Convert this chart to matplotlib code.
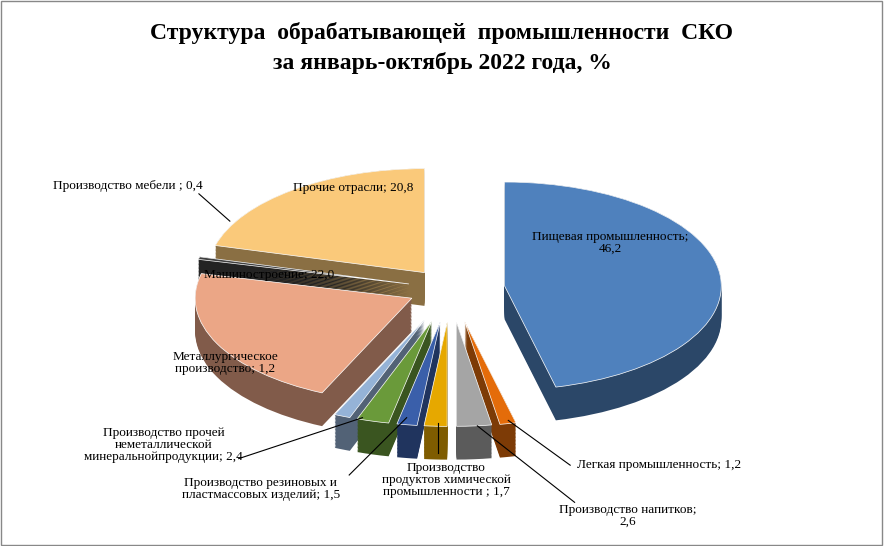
import matplotlib
matplotlib.use("Agg")
import matplotlib.pyplot as plt
import numpy as np
from matplotlib.colors import to_rgb

categories = ["Пищевая промышленность; 46,2", "Легкая промышленность; 1,2", "Производство напитков; 2,6",
              "Производство продуктов химической промышленности ; 1,7", "Производство резиновых и пластмассовых изделий; 1,5",
              "Производство прочей неметаллической минеральнойпродукции; 2,4", "Металлургическое производство; 1,2",
              "Машиностроение; 22,0", "Производство мебели ; 0,4", "Прочие отрасли; 20,8"]
values = [46.2, 1.2, 2.6, 1.7, 1.5, 2.4, 1.2, 22.0, 0.4, 20.8]
colors = ["#4F81BD", "#E46C0A", "#A5A5A5", "#E6A800", "#3A5FAA", "#6A9A3A", "#95B3D7", "#EBA686", "#404040", "#FAC97A"]
explode = [0.25, 0.32, 0.32, 0.32, 0.32, 0.32, 0.32, 0.2, 0.2, 0.2]

plt.rcParams["font.family"] = "Liberation Serif"
fig = plt.figure(figsize=(8.84, 5.46), dpi=100)
fig.patches.append(plt.Rectangle((0.001, 0.001), 0.997, 0.997, transform=fig.transFigure,
                                 fill=False, ec="#888888", lw=1))
fig.text(0.5, 0.94, "Структура  обрабатывающей  промышленности  СКО", ha="center", va="center",
         fontsize=17, fontweight="bold")
fig.text(0.5, 0.885, "за январь-октябрь 2022 года, %", ha="center", va="center", fontsize=17, fontweight="bold")

ax = fig.add_axes([0.08, 0.0, 0.86, 0.80])
dark = [tuple(c * 0.55 for c in to_rgb(col)) for col in colors]
depth = 0.32
for k in np.linspace(depth, 0.0, 25):
    ax.pie(values, colors=dark, explode=explode, startangle=90, counterclock=False,
           center=(0, -k), wedgeprops=dict(lw=0), normalize=True)
ax.pie(values, colors=colors, explode=explode, startangle=90, counterclock=False,
       center=(0, 0), wedgeprops=dict(lw=0.5, ec="white"), normalize=True)
ax.set_aspect(0.48)
ax.set_xlim(-1.75, 1.75)
ax.set_ylim(-2.47, 1.73)
ax.axis("off")

fs = 9.5
def lab(x, y, s, ha="center", xy=None):
    fig.text(x, y, s, ha=ha, va="center", fontsize=fs, linespacing=1.0)
    if xy is not None:
        fig.add_artist(plt.Line2D([xy[0], xy[2]], [xy[1], xy[3]], color="black", lw=0.8,
                                  transform=fig.transFigure))

lab(0.69, 0.555, "Пищевая промышленность;\n46,2")
lab(0.40, 0.655, "Прочие отрасли; 20,8")
lab(0.305, 0.497, "Машиностроение; 22,0")
lab(0.145, 0.66, "Производство мебели ; 0,4", xy=(0.225, 0.645, 0.26, 0.595))
lab(0.255, 0.335, "Металлургическое\nпроизводство; 1,2")
lab(0.185, 0.185, "Производство прочей\nнеметаллической\nминеральнойпродукции; 2,4", xy=(0.27, 0.16, 0.41, 0.235))
lab(0.295, 0.105, "Производство резиновых и\nпластмассовых изделий; 1,5", xy=(0.395, 0.13, 0.46, 0.235))
lab(0.505, 0.12, "Производство\nпродуктов химической\nпромышленности ; 1,7", xy=(0.495, 0.17, 0.495, 0.225))
lab(0.745, 0.148, "Легкая промышленность; 1,2", xy=(0.645, 0.148, 0.575, 0.23))
lab(0.71, 0.055, "Производство напитков;\n2,6", xy=(0.65, 0.08, 0.54, 0.22))

fig.savefig("out.png", dpi=100)
